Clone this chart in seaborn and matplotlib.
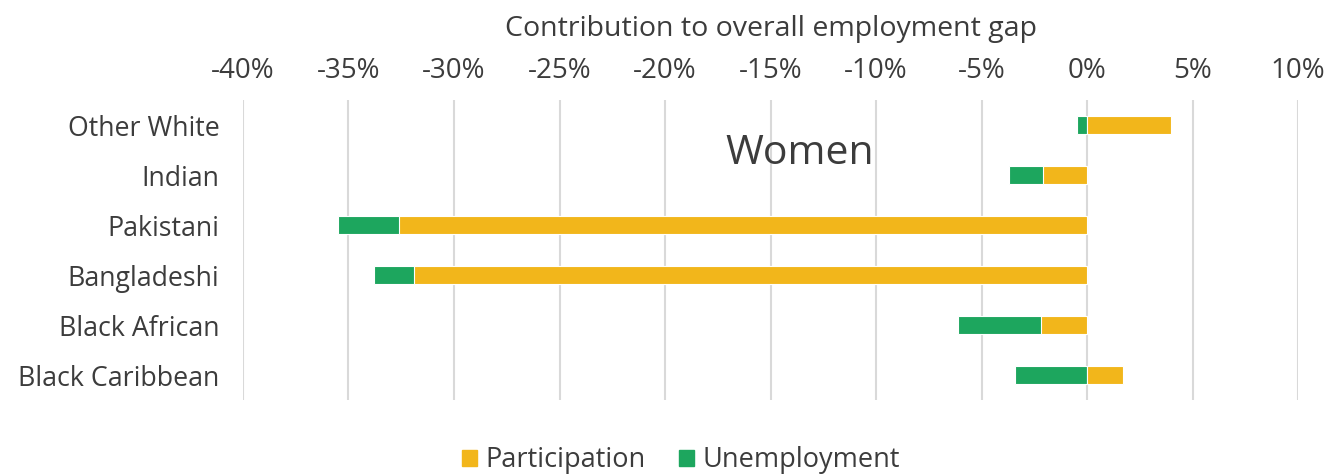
import matplotlib
matplotlib.use("Agg")
import matplotlib.pyplot as plt
import matplotlib.patches as mpatches
import numpy as np
import pandas as pd
import seaborn as sns

groups = ["Other White", "Indian", "Pakistani", "Bangladeshi", "Black African", "Black Caribbean"]
participation = [4.0, -2.1, -32.6, -31.9, -2.2, 1.7]
unemployment = [-0.5, -1.6, -2.9, -1.9, -3.9, -3.4]
tick_values = [-40, -35, -30, -25, -20, -15, -10, -5, 0, 5, 10]

YELLOW = "#F2B61B"
GREEN = "#1DA65E"
TEXT = "#3C3C3C"

sns.set_theme(style="white")
plt.rcParams["font.family"] = ["Open Sans", "DejaVu Sans"]

p = np.array(participation)
u = np.array(unemployment)
# Stack each series away from zero: unemployment sits beyond participation when they share a sign
u_end = u + np.where(np.sign(u) == np.sign(p), p, 0.0)

df = pd.DataFrame({"group": groups, "participation": p, "unemployment_end": u_end})

fig = plt.figure(figsize=(13.27, 4.74), dpi=100)
ax = fig.add_axes([0.1831, 0.156, 0.7951, 0.633])

sns.barplot(data=df, y="group", x="unemployment_end", color=GREEN, saturation=1,
            width=0.36, ax=ax, orient="h", edgecolor="white", linewidth=0.8, zorder=3)
sns.barplot(data=df, y="group", x="participation", color=YELLOW, saturation=1,
            width=0.36, ax=ax, orient="h", edgecolor="white", linewidth=0.8, zorder=4)

ax.set_xlim(-40, 10)
ax.set_ylim(5.5, -0.5)
ax.set_xticks(tick_values)
ax.set_xticklabels([f"{v}%" for v in tick_values])
ax.xaxis.tick_top()
ax.xaxis.set_label_position("top")
ax.set_xlabel("Contribution to overall employment gap", fontsize=20.5, color=TEXT, labelpad=15)
ax.set_ylabel("")
ax.tick_params(axis="x", length=0, labelsize=20, labelcolor=TEXT, pad=11)
ax.tick_params(axis="y", length=0, labelsize=19.3, labelcolor=TEXT, pad=17)
ax.grid(axis="x", color="#D9D9D9", linewidth=1.5, zorder=0)
ax.grid(axis="y", visible=False)
ax.set_axisbelow(True)
for s in ax.spines.values():
    s.set_visible(False)

ax.text(-13.6, 0.58, "Women", fontsize=29.5, color=TEXT, ha="center", va="center", zorder=5)

handles = [mpatches.Patch(color=YELLOW, label="Participation"),
           mpatches.Patch(color=GREEN, label="Unemployment")]
fig.legend(handles=handles, loc="lower center", bbox_to_anchor=(0.513, -0.052), ncol=2,
           frameon=False, fontsize=19.5, handlelength=0.55, handleheight=0.55,
           handletextpad=0.3, columnspacing=1.25, labelcolor=TEXT)

fig.savefig("out.png", dpi=100)
